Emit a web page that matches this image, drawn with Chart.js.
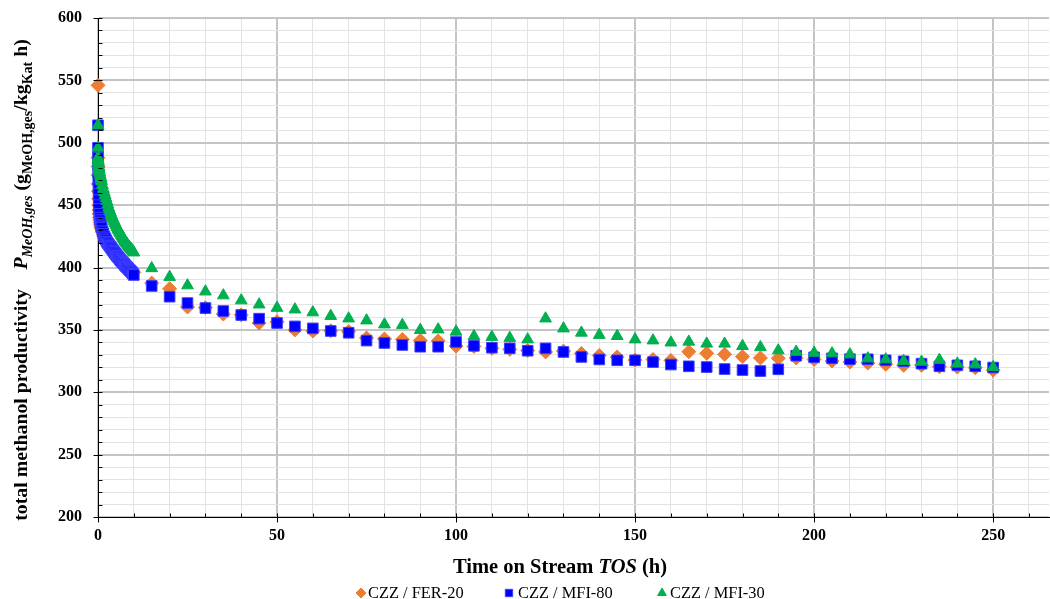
<!DOCTYPE html>
<html>
<head>
<meta charset="utf-8">
<script src="https://cdn.jsdelivr.net/npm/chart.js@4.4.1/dist/chart.umd.min.js"></script>
<style>
  html, body { margin: 0; padding: 0; background: #ffffff; }
  canvas { display: block; }
</style>
</head>
<body>
<canvas id="chart" width="1050" height="599"></canvas>
<script>
// Catalyst series
const seriesNames = ['CZZ / FER-20', 'CZZ / MFI-80', 'CZZ / MFI-30'];

// First readings at TOS = 0 h
const fer20Initial = [546];
const mfi80Initial = [514, 496];
const mfi30Initial = [514, 496];

// Densely logged start-up phase (h)
const earlyHours = [0, 0.02, 0.05, 0.08, 0.12, 0.16, 0.2, 0.25, 0.3,
  0.4, 0.5, 0.6, 0.7, 0.8, 0.9, 1.0,
  1.25, 1.5, 1.75, 2.0, 2.25, 2.5, 2.75, 3.0, 3.25, 3.5, 3.75, 4.0,
  4.25, 4.5, 4.75, 5.0, 5.25, 5.5, 5.75, 6.0, 6.25, 6.5, 6.75, 7.0,
  7.25, 7.5, 7.75, 8.0, 8.25, 8.5, 8.75, 9.0, 9.25, 9.5, 9.75, 10.0];

const fer20Early = [488, 481, 474, 467, 461, 455, 450, 446, 443,
  440, 438, 436, 434.5, 433, 432, 431,
  428.5, 426.5, 424.5, 423, 421.5, 420, 419, 418, 417, 416, 415, 414,
  413, 412, 411, 410.2, 409.4, 408.6, 407.8, 407, 406.2, 405.4, 404.6, 403.8,
  403, 402.3, 401.6, 400.9, 400.2, 399.5, 398.8, 398.1, 397.4, 396.8, 396.3, 396];

const mfi80Early = [488, 482, 476, 470, 464, 459, 454, 450, 447,
  443, 440, 438, 436, 434.5, 433, 432,
  429, 427, 425, 423.5, 422, 420.5, 419.5, 418.5, 417.5, 416.5, 415.5, 414.5,
  413.5, 412.5, 411.5, 410.5, 409.5, 408.7, 408, 407, 406, 405.3, 404.5, 403.7,
  403, 402, 401.2, 400.5, 399.8, 399, 398.2, 397.5, 396.8, 396, 395, 394];

const mfi30Early = [488, 487, 486, 485, 484, 482.5, 481, 480, 479,
  477.5, 476, 474.5, 473, 471.5, 470, 469,
  466, 463, 460.5, 458, 455.5, 453, 450.5, 448, 446, 444, 442, 440,
  438.5, 437, 435.5, 434, 432.5, 431, 429.8, 428.5, 427.3, 426, 424.8, 423.6,
  422.4, 421.2, 420.2, 419.2, 418.2, 417.3, 416.4, 415.5, 414.6, 413.8, 413, 412];

// Long-term run, sampled every 5 h
const lateHours = [15, 20, 25, 30, 35, 40, 45, 50, 55, 60,
  65, 70, 75, 80, 85, 90, 95, 100, 105, 110,
  115, 120, 125, 130, 135, 140, 145, 150, 155, 160,
  165, 170, 175, 180, 185, 190, 195, 200, 205, 210,
  215, 220, 225, 230, 235, 240, 245, 250];

const fer20Late = [387.5, 383.0, 368.3, 367.8, 362.7, 362.0, 355.5, 356.5, 350.0, 349.1,
  349.3, 348.8, 343.5, 342.7, 342.3, 341.5, 341.1, 337.0, 336.7, 335.2,
  334.4, 333.5, 332.3, 333.0, 331.1, 329.5, 328.3, 325.8, 326.3, 325.5,
  332.5, 331.2, 330.4, 328.5, 327.5, 327.2, 327.5, 326.3, 325.0, 324.2,
  323.4, 322.4, 321.6, 321.6, 320.5, 320.2, 319.7, 317.7];

const mfi80Late = [385.2, 376.6, 371.5, 367.5, 365.1, 361.9, 359.0, 355.5, 352.8, 351.2,
  349.1, 347.7, 341.4, 339.5, 337.9, 336.5, 336.5, 340.3, 337.2, 335.7,
  335.2, 333.3, 335.2, 332.3, 328.3, 326.3, 325.6, 325.6, 324.2, 322.2,
  320.8, 320.2, 318.6, 317.8, 317.0, 318.4, 329.3, 328.0, 327.2, 326.5,
  326.4, 325.6, 324.8, 322.9, 320.8, 321.6, 320.8, 319.8];

const mfi30Late = [399.4, 392.4, 385.6, 380.7, 377.6, 373.6, 370.3, 367.6, 366.3, 364.0,
  361.1, 359.1, 357.5, 354.3, 353.9, 349.9, 350.3, 348.5, 344.9, 344.3,
  343.5, 342.3, 359.1, 351.1, 347.7, 345.9, 345.0, 342.3, 341.5, 339.8,
  340.5, 338.9, 338.9, 337.0, 336.1, 333.5, 332.4, 331.6, 331.1, 330.3,
  327.1, 326.3, 325.0, 324.4, 325.9, 322.9, 322.3, 320.1];

// Axis ranges
const xRange = [0, 265.6];
const yRange = [200, 600];
const minorStep = 10;
const majorStep = 50;

const SERIF = '"Liberation Serif", "Times New Roman", serif';
const COLORS = { fer20: '#ED7D31', mfi80: '#0000FF', mfi30: '#00B050' };

function toPoints(initial, early, late) {
  return initial.map(v => ({ x: 0, y: v }))
    .concat(earlyHours.map((h, i) => ({ x: h, y: early[i] })))
    .concat(lateHours.map((h, i) => ({ x: h, y: late[i] })));
}

const isMajor = v => Math.abs(Math.round(v) % majorStep) === 0;

// Tick marks, axis titles and the legend row
const decorations = {
  id: 'decorations',
  afterDraw(chart) {
    const ctx = chart.ctx;
    const xs = chart.scales.x, ys = chart.scales.y;
    const area = chart.chartArea;
    ctx.save();
    ctx.strokeStyle = '#000';
    ctx.lineWidth = 1;
    ctx.beginPath();
    const x0 = Math.round(area.left) + 0.5;
    const y0 = Math.round(area.bottom) + 0.5;
    for (let v = yRange[0]; v <= yRange[1]; v += minorStep) {
      const py = Math.round(ys.getPixelForValue(v)) + 0.5;
      ctx.moveTo(x0, py); ctx.lineTo(x0 + 4, py);
      if (isMajor(v)) { ctx.moveTo(x0 - 5, py); ctx.lineTo(x0, py); }
    }
    for (let v = 0; v <= xRange[1]; v += minorStep) {
      const px = Math.round(xs.getPixelForValue(v)) + 0.5;
      ctx.moveTo(px, y0); ctx.lineTo(px, y0 - 4);
      if (isMajor(v)) { ctx.moveTo(px, y0); ctx.lineTo(px, y0 + 5); }
    }
    ctx.stroke();

    // rich text helper: segments of {t, f(ont), sub}
    function runWidth(segs) {
      let w = 0;
      segs.forEach(s => { ctx.font = s.f; w += ctx.measureText(s.t).width; });
      return w;
    }
    function drawRun(segs, startX, baseY, subShift) {
      let x = startX;
      segs.forEach(s => {
        ctx.font = s.f;
        ctx.fillText(s.t, x, baseY + (s.sub ? subShift : 0));
        x += ctx.measureText(s.t).width;
      });
    }
    ctx.fillStyle = '#000';
    ctx.textBaseline = 'alphabetic';
    ctx.textAlign = 'left';

    const big = 'bold 19.8px ' + SERIF;
    const bigI = 'italic bold 19.8px ' + SERIF;
    const small = 'bold 14px ' + SERIF;
    const smallI = 'italic bold 14px ' + SERIF;

    // y-axis title
    const yTitle = [
      { t: 'total methanol productivity    ', f: big },
      { t: 'P', f: bigI },
      { t: 'MeOH,ges', f: smallI, sub: true },
      { t: ' (g', f: big },
      { t: 'MeOH,ges', f: small, sub: true },
      { t: '/kg', f: big },
      { t: 'Kat', f: small, sub: true },
      { t: ' h)', f: big }
    ];
    const yw = runWidth(yTitle);
    ctx.save();
    ctx.translate(27, 280);
    ctx.rotate(-Math.PI / 2);
    drawRun(yTitle, -yw / 2, 0, 5);
    ctx.restore();

    // x-axis title
    const xBig = 'bold 20.5px ' + SERIF;
    const xBigI = 'italic bold 20.5px ' + SERIF;
    const xTitle = [
      { t: 'Time on Stream ', f: xBig },
      { t: 'TOS', f: xBigI },
      { t: ' (h)', f: xBig }
    ];
    const xw = runWidth(xTitle);
    drawRun(xTitle, 560 - xw / 2, 573, 0);

    // legend
    const legendItems = [
      { ds: 0, mx: 361, tx: 368 },
      { ds: 1, mx: 509, tx: 518 },
      { ds: 2, mx: 662, tx: 670 }
    ];
    const ly = 593;
    ctx.textBaseline = 'middle';
    legendItems.forEach(it => {
      const ds = chart.data.datasets[it.ds];
      const opts = {
        pointStyle: ds.pointStyle, radius: ds.pointStyle === 'rect' ? 5.2 : 5,
        rotation: 0, borderWidth: 1
      };
      ctx.fillStyle = ds.backgroundColor;
      ctx.strokeStyle = ds.borderColor;
      Chart.helpers.drawPoint(ctx, opts, it.mx, ly);
      ctx.fillStyle = '#000';
      ctx.font = '16.4px ' + SERIF;
      ctx.fillText(seriesNames[it.ds], it.tx, ly + 1);
    });
    ctx.restore();
  }
};

const gridColor = c => (c.tick && isMajor(c.tick.value)) ? '#c4c4c4' : '#e3e3e3';
const gridWidth = c => (c.tick && isMajor(c.tick.value)) ? 2 : 1;

new Chart(document.getElementById('chart'), {
  type: 'scatter',
  data: {
    datasets: [
      {
        label: seriesNames[0],
        data: toPoints(fer20Initial, fer20Early, fer20Late),
        pointStyle: 'rectRot', pointRadius: 7,
        backgroundColor: COLORS.fer20, borderColor: COLORS.fer20, borderWidth: 1,
        order: 3, clip: false
      },
      {
        label: seriesNames[1],
        data: toPoints(mfi80Initial, mfi80Early, mfi80Late),
        pointStyle: 'rect', pointRadius: 7.5,
        backgroundColor: COLORS.mfi80, borderColor: '#3d3dff', borderWidth: 1,
        order: 2, clip: false
      },
      {
        label: seriesNames[2],
        data: toPoints(mfi30Initial, mfi30Early, mfi30Late),
        pointStyle: 'triangle', pointRadius: 6.8,
        backgroundColor: COLORS.mfi30, borderColor: COLORS.mfi30, borderWidth: 1,
        order: 1, clip: false
      }
    ]
  },
  options: {
    responsive: false,
    animation: false,
    events: [],
    layout: { autoPadding: false, padding: { top: 18, right: 1, left: 0, bottom: 0 } },
    plugins: {
      legend: { display: false },
      tooltip: { enabled: false },
      title: { display: false }
    },
    scales: {
      x: {
        type: 'linear',
        min: xRange[0], max: xRange[1],
        afterFit: s => { s.height = 82; s.paddingLeft = 0; s.paddingRight = 0; },
        border: { display: true, color: '#000', width: 1 },
        grid: { drawTicks: false, color: gridColor, lineWidth: gridWidth },
        ticks: {
          stepSize: minorStep, includeBounds: false, autoSkip: false, maxRotation: 0,
          padding: 9, color: '#000',
          font: { family: SERIF, size: 16, weight: 'bold' },
          callback: v => isMajor(v) ? String(Math.round(v)) : ''
        }
      },
      y: {
        type: 'linear',
        min: yRange[0], max: yRange[1],
        afterFit: s => { s.width = 98; s.paddingTop = 0; s.paddingBottom = 0; },
        border: { display: true, color: '#000', width: 1 },
        grid: { drawTicks: false, color: gridColor, lineWidth: gridWidth },
        ticks: {
          stepSize: minorStep, autoSkip: false,
          padding: 16, color: '#000',
          font: { family: SERIF, size: 16, weight: 'bold' },
          callback: v => isMajor(v) ? String(Math.round(v)) : ''
        }
      }
    }
  },
  plugins: [decorations]
});
</script>
</body>
</html>
